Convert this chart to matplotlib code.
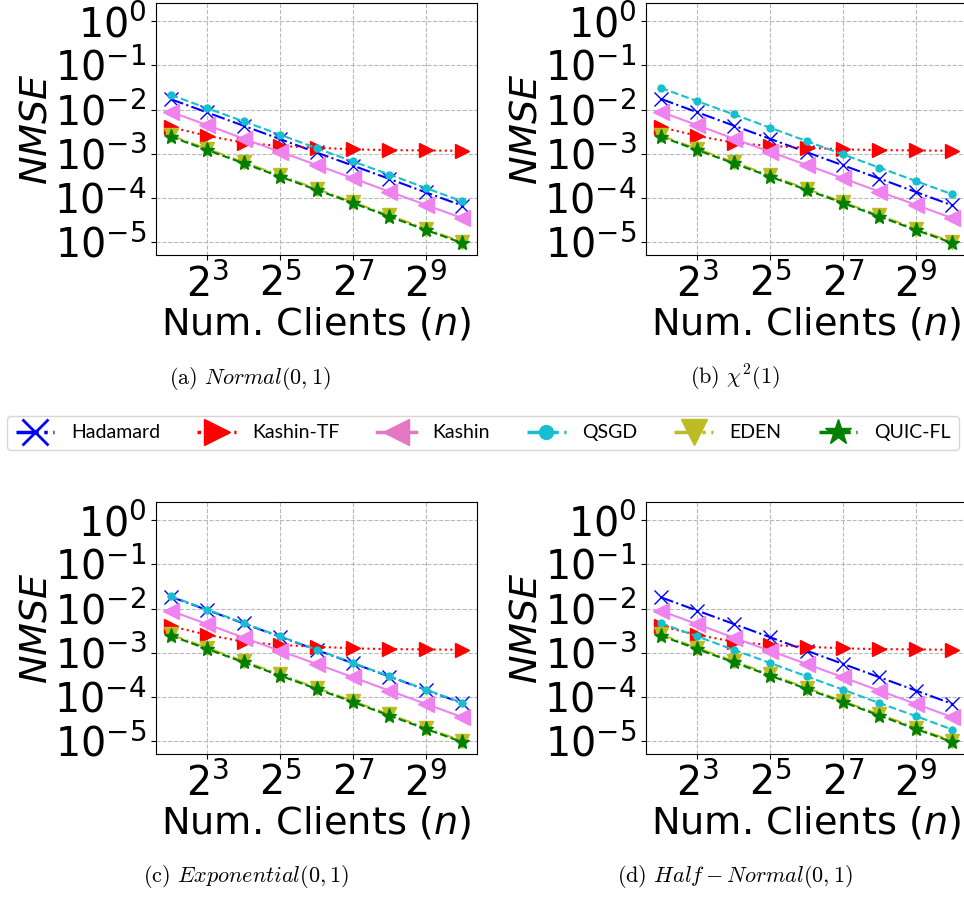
import matplotlib
matplotlib.use("Agg")
import matplotlib.pyplot as plt
from matplotlib.lines import Line2D
from matplotlib.ticker import NullLocator

# ---------------- data ----------------
clients = [4, 8, 16, 32, 64, 128, 256, 512, 1024]
x_ticks = [8, 32, 128, 512]

methods = ["Hadamard", "Kashin-TF", "Kashin", "QSGD", "EDEN", "QUIC-FL"]

# (a) Normal(0,1)
normal_hadamard = [1.72e-2, 8.6e-3, 4.3e-3, 2.15e-3, 1.07e-3, 5.4e-4, 2.7e-4, 1.34e-4, 6.7e-5]
normal_kashin_tf = [4.0e-3, 2.55e-3, 1.78e-3, 1.5e-3, 1.37e-3, 1.26e-3, 1.21e-3, 1.19e-3, 1.17e-3]
normal_kashin = [8.9e-3, 4.45e-3, 2.2e-3, 1.11e-3, 5.6e-4, 2.8e-4, 1.39e-4, 7.0e-5, 3.5e-5]
normal_qsgd = [2.15e-2, 1.07e-2, 5.4e-3, 2.7e-3, 1.34e-3, 6.7e-4, 3.4e-4, 1.68e-4, 8.4e-5]
normal_eden = [2.6e-3, 1.3e-3, 6.5e-4, 3.25e-4, 1.62e-4, 8.1e-5, 4.05e-5, 2.03e-5, 1.01e-5]
normal_quic = [2.45e-3, 1.22e-3, 6.1e-4, 3.05e-4, 1.53e-4, 7.7e-5, 3.8e-5, 1.9e-5, 9.6e-6]

# (b) chi^2(1)
chi2_hadamard = [1.75e-2, 8.7e-3, 4.35e-3, 2.18e-3, 1.09e-3, 5.5e-4, 2.75e-4, 1.37e-4, 6.8e-5]
chi2_kashin_tf = [4.0e-3, 2.55e-3, 1.78e-3, 1.5e-3, 1.37e-3, 1.26e-3, 1.21e-3, 1.19e-3, 1.17e-3]
chi2_kashin = [8.9e-3, 4.45e-3, 2.2e-3, 1.11e-3, 5.6e-4, 2.8e-4, 1.39e-4, 7.0e-5, 3.5e-5]
chi2_qsgd = [3.1e-2, 1.55e-2, 7.8e-3, 3.9e-3, 1.94e-3, 9.7e-4, 4.85e-4, 2.42e-4, 1.21e-4]
chi2_eden = [2.6e-3, 1.3e-3, 6.5e-4, 3.25e-4, 1.62e-4, 8.1e-5, 4.05e-5, 2.03e-5, 1.01e-5]
chi2_quic = [2.45e-3, 1.22e-3, 6.1e-4, 3.05e-4, 1.53e-4, 7.7e-5, 3.8e-5, 1.9e-5, 9.6e-6]

# (c) Exponential(0,1)
exp_hadamard = [1.85e-2, 9.3e-3, 4.6e-3, 2.3e-3, 1.16e-3, 5.8e-4, 2.9e-4, 1.45e-4, 7.2e-5]
exp_kashin_tf = [4.0e-3, 2.55e-3, 1.78e-3, 1.5e-3, 1.37e-3, 1.26e-3, 1.21e-3, 1.19e-3, 1.17e-3]
exp_kashin = [8.9e-3, 4.45e-3, 2.2e-3, 1.11e-3, 5.6e-4, 2.8e-4, 1.39e-4, 7.0e-5, 3.5e-5]
exp_qsgd = [1.9e-2, 9.5e-3, 4.7e-3, 2.35e-3, 1.18e-3, 5.9e-4, 2.95e-4, 1.47e-4, 7.4e-5]
exp_eden = [2.6e-3, 1.3e-3, 6.5e-4, 3.25e-4, 1.62e-4, 8.1e-5, 4.05e-5, 2.03e-5, 1.01e-5]
exp_quic = [2.45e-3, 1.22e-3, 6.1e-4, 3.05e-4, 1.53e-4, 7.7e-5, 3.8e-5, 1.9e-5, 9.6e-6]

# (d) Half-Normal(0,1)
half_hadamard = [1.8e-2, 9.0e-3, 4.5e-3, 2.25e-3, 1.12e-3, 5.6e-4, 2.8e-4, 1.4e-4, 7.0e-5]
half_kashin_tf = [4.0e-3, 2.55e-3, 1.78e-3, 1.5e-3, 1.37e-3, 1.26e-3, 1.21e-3, 1.19e-3, 1.17e-3]
half_kashin = [8.9e-3, 4.45e-3, 2.2e-3, 1.11e-3, 5.6e-4, 2.8e-4, 1.39e-4, 7.0e-5, 3.5e-5]
half_qsgd = [4.7e-3, 2.35e-3, 1.17e-3, 5.9e-4, 2.95e-4, 1.47e-4, 7.3e-5, 3.7e-5, 1.84e-5]
half_eden = [2.6e-3, 1.3e-3, 6.5e-4, 3.25e-4, 1.62e-4, 8.1e-5, 4.05e-5, 2.03e-5, 1.01e-5]
half_quic = [2.45e-3, 1.22e-3, 6.1e-4, 3.05e-4, 1.53e-4, 7.7e-5, 3.8e-5, 1.9e-5, 9.6e-6]

panels = [
    ("(a) ", r"$Normal(0,1)$",
     [normal_hadamard, normal_kashin_tf, normal_kashin, normal_qsgd, normal_eden, normal_quic]),
    ("(b) ", r"$\chi^2(1)$",
     [chi2_hadamard, chi2_kashin_tf, chi2_kashin, chi2_qsgd, chi2_eden, chi2_quic]),
    ("(c) ", r"$Exponential(0,1)$",
     [exp_hadamard, exp_kashin_tf, exp_kashin, exp_qsgd, exp_eden, exp_quic]),
    ("(d) ", r"$Half-Normal(0,1)$",
     [half_hadamard, half_kashin_tf, half_kashin, half_qsgd, half_eden, half_quic]),
]

# ---------------- styles ----------------
plot_colors = ["blue", "red", "violet", "tab:cyan", "tab:olive", "green"]
legend_colors = ["blue", "red", "tab:pink", "tab:cyan", "tab:olive", "green"]
markers = ["x", ">", "<", "o", "v", "*"]
linestyles = ["-.", ":", "-", "--", "-.", "--"]
msizes = [10, 10, 11, 5, 10, 11]

W, H = 964, 899
fig = plt.figure(figsize=(W / 100, H / 100), dpi=100)

# axes rectangles in pixels: (left, top, width, height)
rects = [(156, 3, 321, 252), (646, 3, 321, 252),
         (156, 502, 321, 252), (646, 502, 321, 252)]
caption_pos = [(250, 378), (735, 378), (246, 877), (735, 877)]

ylo, yhi = 10 ** -5.287, 10 ** 0.407

for (l, t, w, h), (cx, cy), (tag, dist, series) in zip(rects, caption_pos, panels):
    ax = fig.add_axes([l / W, 1 - (t + h) / H, w / W, h / H])
    for i, vals in enumerate(series):
        ax.plot(clients, vals, color=plot_colors[i], marker=markers[i],
                linestyle=linestyles[i], markersize=msizes[i], linewidth=1.5,
                label=methods[i])
    ax.set_xscale("log", base=2)
    ax.set_yscale("log")
    ax.set_xticks(x_ticks)
    ax.xaxis.set_minor_locator(NullLocator())
    ax.set_ylim(ylo, yhi)
    ax.set_yticks([1e0, 1e-1, 1e-2, 1e-3, 1e-4, 1e-5])
    ax.tick_params(axis="both", which="major", labelsize=28.5)
    ax.grid(True, which="major", linestyle="--", color="0.72", linewidth=0.8)
    ax.set_xlabel(r"Num. Clients ($n$)", fontsize=27.5, labelpad=0)
    ax.set_ylabel(r"$NMSE$", fontsize=27.5, labelpad=0)
    fig.text(cx / W, 1 - cy / H, tag + dist, fontsize=16, family="cmr10",
             math_fontfamily="cm", ha="center", va="center")

handles = [Line2D([], [], color=legend_colors[i], marker=markers[i],
                  linestyle=linestyles[i], markersize=19 if i != 3 else 10,
                  linewidth=2.5, markeredgewidth=2 if i == 0 else 1)
           for i in range(6)]
leg = fig.legend(handles, methods, loc="center", ncol=6,
                 bbox_to_anchor=(483 / W, 1 - 433 / H),
                 prop={"family": "Lato", "size": 14},
                 handlelength=2.0, handletextpad=0.85, columnspacing=1.9,
                 borderpad=0.45, frameon=True)

fig.savefig("out.png", dpi=100)
